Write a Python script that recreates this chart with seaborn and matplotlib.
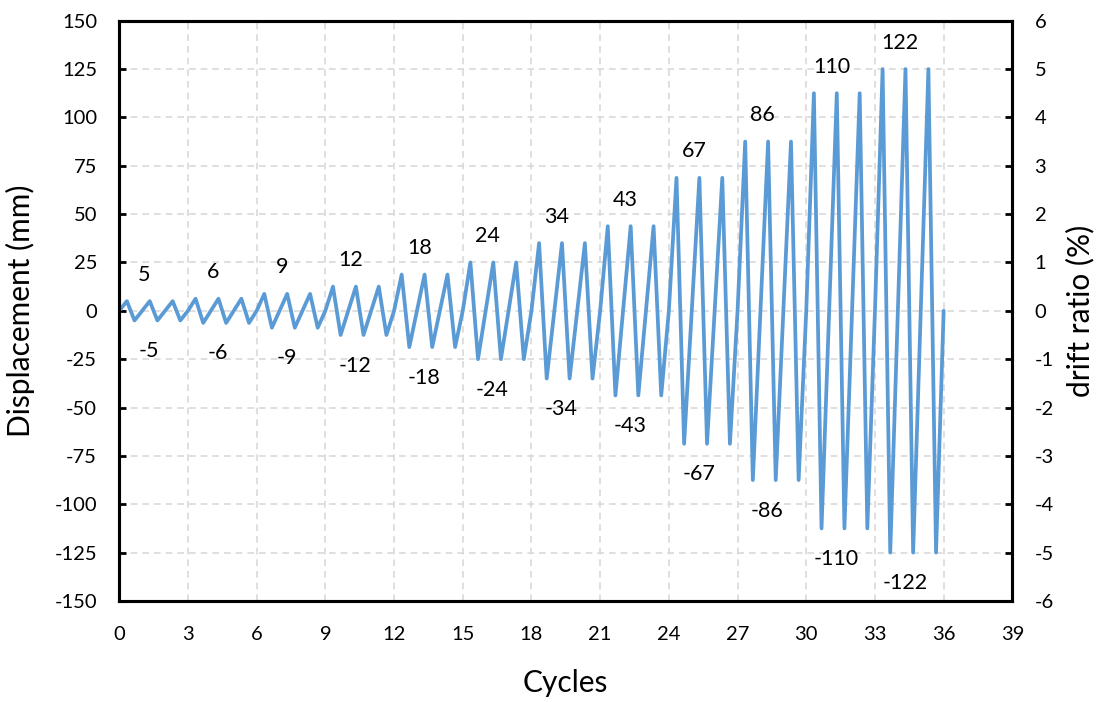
import numpy as np
import pandas as pd
import matplotlib
matplotlib.use('Agg')
import matplotlib.pyplot as plt
import seaborn as sns

# Protocolo de carga: niveles de amplitud, 3 ciclos por nivel
etiquetas_nivel = [5, 6, 9, 12, 18, 24, 34, 43, 67, 86, 110, 122]
drift_nivel = [0.2, 0.25, 0.35, 0.5, 0.75, 1.0, 1.4, 1.75, 2.75, 3.5, 4.5, 5.0]  # %
ciclos_por_nivel = 3
mm_por_drift = 25.0  # 5 % = 125 mm

x_ticks = list(range(0, 40, 3))
y_ticks = list(range(-150, 151, 25))
drift_ticks = list(range(-6, 7))

# serie: cero, pico, valle en cada ciclo (pasos de 1/3 de ciclo)
ciclo, despl = [0.0], [0.0]
n = 0
for d in drift_nivel:
    amp = d * mm_por_drift
    for _ in range(ciclos_por_nivel):
        ciclo += [n + 1/3, n + 2/3, n + 1]
        despl += [amp, -amp, 0.0]
        n += 1
df = pd.DataFrame({'Cycles': ciclo, 'Displacement': despl})

sns.set_style('white')
plt.rcParams['font.family'] = ['Lato', 'DejaVu Sans']
plt.rcParams['axes.unicode_minus'] = False
plt.rcParams['text.color'] = 'black'
plt.rcParams['axes.labelcolor'] = 'black'
plt.rcParams['xtick.color'] = 'black'
plt.rcParams['ytick.color'] = 'black'

fig = plt.figure(figsize=(11.04, 7.02), dpi=100)
ax = fig.add_axes([0.108, 0.144, 0.809, 0.8265])

sns.lineplot(data=df, x='Cycles', y='Displacement', ax=ax, color='#5B9BD5',
             linewidth=2.7, estimator=None, sort=False)

ax.set_xlim(0, 39)
ax.set_ylim(-150, 150)
ax.set_xticks(x_ticks)
ax.set_yticks(y_ticks)
ax.grid(True, color='#D9D9D9', linestyle=(0, (4, 3)), linewidth=1.2)
ax.set_axisbelow(True)
ax.tick_params(axis='y', direction='in', length=5, width=2, labelsize=14.5, pad=16)
ax.tick_params(axis='x', length=0, labelsize=14.5, pad=18)
for s in ax.spines.values():
    s.set_linewidth(2.2)
    s.set_color('black')
ax.set_xlabel('Cycles', fontsize=21.5)
ax.set_ylabel('Displacement (mm)', fontsize=21.5)
ax.xaxis.set_label_coords(0.5, -0.118)
ax.yaxis.set_label_coords(-0.094, 0.5)

ax2 = ax.twinx()
ax2.set_ylim(-6, 6)
ax2.set_yticks(drift_ticks)
ax2.tick_params(axis='y', direction='in', length=5, width=2, labelsize=14.5, pad=16)
for s in ax2.spines.values():
    s.set_linewidth(2.2)
    s.set_color('black')
ax2.set_ylabel('drift ratio (%)', fontsize=21.5)
ax2.yaxis.set_label_coords(1.060, 0.5)
ax2.grid(False)

# etiquetas de amplitud de cada nivel
for i, (lab, d) in enumerate(zip(etiquetas_nivel, drift_nivel)):
    amp = d * mm_por_drift
    inicio = i * ciclos_por_nivel
    ax.annotate(str(lab), (inicio + 1.1, amp), xytext=(0, 19), textcoords='offset points',
                ha='center', va='center', fontsize=15.5)
    ax.annotate(str(-lab), (inicio + 1.3, -amp), xytext=(0, -22), textcoords='offset points',
                ha='center', va='center', fontsize=15.5)

fig.savefig('out.png', dpi=100)
